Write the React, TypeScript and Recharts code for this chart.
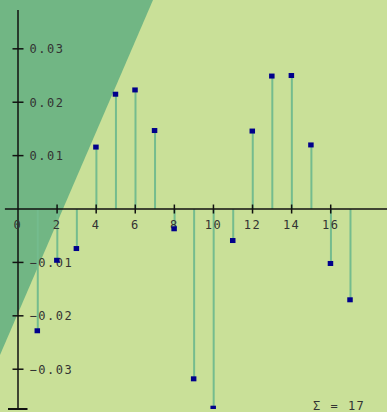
import {
    ComposedChart,
    Bar,
    Scatter,
    XAxis,
    YAxis,
    ReferenceLine,
    ReferenceDot,
} from 'recharts'

// sample index and stem value
const indices = [1, 2, 3, 4, 5, 6, 7, 8, 9, 10, 11, 12, 13, 14, 15, 16, 17]
const values = [
    -0.0228, -0.0096, -0.0074, 0.0116, 0.0215, 0.0223, 0.0147, -0.0037, -0.0318,
    -0.0373, -0.0059, 0.0146, 0.0249, 0.025, 0.012, -0.0102, -0.017,
]
const xTicks = [0, 2, 4, 6, 8, 10, 12, 14, 16]
const xTickLabels = ['0', '2', '4', '6', '8', '10', '12', '14', '16']
const yTicks = [0.03, 0.02, 0.01, -0.01, -0.02, -0.03]
const yTickLabels = ['0.03', '0.02', '0.01', '\u22120.01', '\u22120.02', '\u22120.03']
const sumLabel = '\u03a3 = 17'

const xDomain = [0, 18.88]
const yDomain = [-0.03745, 0.03727]

const W = 387
const H = 412
const LIGHT = '#c9e098'
const DARK = '#71b684'
const STEM = '#74bc8e'
const MARK = '#00008b'
const AXIS = '#111'
const FONT = '"DejaVu Sans Mono", monospace'

const XTick = ({ cx, cy, label }: any) => (
    <g>
        <line x1={cx} x2={cx} y1={cy - 4.5} y2={cy + 4.5} stroke={AXIS} strokeWidth={1.5} />
        <text
            x={cx}
            y={cy + 20}
            textAnchor="middle"
            fontFamily={FONT}
            fontSize={12}
            letterSpacing={1.5}
            fill="#333"
        >
            {label}
        </text>
    </g>
)

const YTick = ({ cx, cy, label }: any) => (
    <g>
        <line x1={cx - 5.5} x2={cx + 5.5} y1={cy} y2={cy} stroke={AXIS} strokeWidth={1.5} />
        <text
            x={cx + 11.5}
            y={cy + 4.5}
            textAnchor="start"
            fontFamily={FONT}
            fontSize={12}
            letterSpacing={1.5}
            fill="#333"
        >
            {label}
        </text>
    </g>
)

const Marker = ({ cx, cy }: any) => (
    <rect x={cx - 3} y={cy - 2.5} width={5.5} height={5} fill={MARK} />
)

export default function App() {
    const data = indices.map((x, i) => ({ x, y: values[i] }))

    return (
        <div style={{ position: 'absolute', left: 0, top: 0, width: W, height: H, background: LIGHT, overflow: 'hidden' }}>
            <div
                style={{
                    position: 'absolute',
                    left: 0,
                    top: 0,
                    width: W,
                    height: H,
                    background: DARK,
                    clipPath: 'polygon(0 0, 153px 0, 0 355px)',
                }}
            />
            <div style={{ position: 'absolute', left: 0, top: 0 }}>
                <ComposedChart
                    width={W}
                    height={H}
                    data={data}
                    margin={{ top: 10, right: 0, bottom: 3, left: 18 }}
                >
                    <XAxis type="number" dataKey="x" domain={xDomain} allowDataOverflow hide />
                    <YAxis type="number" domain={yDomain} allowDataOverflow hide width={0} />
                    <Bar dataKey="y" barSize={2} fill={STEM} isAnimationActive={false} />
                    <ReferenceLine x={0} stroke={AXIS} strokeWidth={1.5} />
                    <ReferenceLine
                        segment={[
                            { x: -0.67, y: 0 },
                            { x: xDomain[1], y: 0 },
                        ]}
                        ifOverflow="visible"
                        stroke={AXIS}
                        strokeWidth={1.5}
                    />
                    {xTicks.map((t, i) =>
                        t === 0 ? (
                            <ReferenceDot
                                key={'xt' + t}
                                x={t}
                                y={0}
                                ifOverflow="visible"
                                shape={(p: any) => (
                                    <text
                                        x={p.cx - 1}
                                        y={p.cy + 20}
                                        textAnchor="middle"
                                        fontFamily={FONT}
                                        fontSize={12}
                                        fill="#333"
                                    >
                                        {xTickLabels[i]}
                                    </text>
                                )}
                            />
                        ) : (
                            <ReferenceDot
                                key={'xt' + t}
                                x={t}
                                y={0}
                                ifOverflow="visible"
                                shape={(p: any) => <XTick {...p} label={xTickLabels[i]} />}
                            />
                        )
                    )}
                    {yTicks.map((t, i) => (
                        <ReferenceDot
                            key={'yt' + t}
                            x={0}
                            y={t}
                            ifOverflow="visible"
                            shape={(p: any) => <YTick {...p} label={yTickLabels[i]} />}
                        />
                    ))}
                    <ReferenceDot
                        x={0}
                        y={yDomain[0]}
                        ifOverflow="visible"
                        shape={(p: any) => (
                            <line x1={p.cx - 10} x2={p.cx + 9.5} y1={p.cy} y2={p.cy} stroke={AXIS} strokeWidth={2} />
                        )}
                    />
                    <Scatter dataKey="y" shape={<Marker />} isAnimationActive={false} />
                </ComposedChart>
            </div>
            <svg style={{ position: 'absolute', left: 0, top: 0 }} width={W} height={H}>
                <text x={313} y={410} fontFamily={FONT} fontSize={12} letterSpacing={1.5} fill="#333">
                    {sumLabel}
                </text>
            </svg>
        </div>
    )
}
